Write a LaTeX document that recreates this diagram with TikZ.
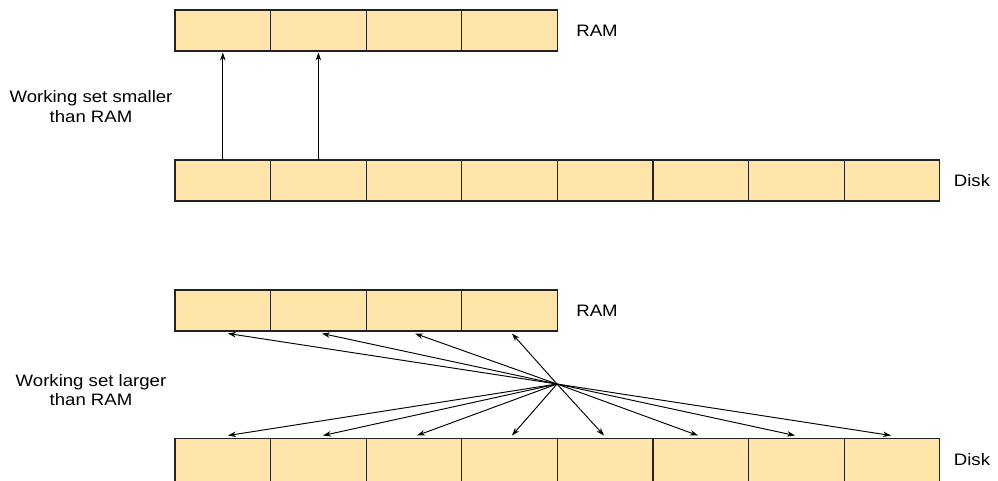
\documentclass[tikz,border=0pt]{standalone}
\usepackage{fontspec}
\setmainfont[FakeStretch=1.12]{Liberation Sans}
\usetikzlibrary{arrows.meta,calc}
\definecolor{cellfill}{HTML}{FFE5AA}
\definecolor{cellline}{HTML}{222222}
\begin{document}
\begin{tikzpicture}[x=1pt,y=-1pt,
  cell/.style={draw=cellline,fill=cellfill,line width=1.1pt,minimum width=95.6pt,minimum height=41pt,inner sep=0pt,outer sep=0pt,anchor=north west},
  lbl/.style={font=\fontsize{16.6}{19.5}\selectfont,inner sep=0pt},
  arr/.style={line width=0.95pt,-{Stealth[length=8pt,width=5.5pt]}}]
\useasboundingbox (0,0) rectangle (998,480);
% top RAM
\foreach \i in {0,...,3}{\node[cell] (ra\i) at ({175+\i*95.6},10) {};}
% top Disk
\foreach \i in {0,...,7}{\node[cell] (da\i) at ({175+\i*95.6},160) {};}
% bottom RAM
\foreach \i in {0,...,3}{\node[cell] (rb\i) at ({175+\i*95.6},290) {};}
% bottom Disk (runs past the lower edge of the picture)
\foreach \i in {0,...,7}{\node[cell,minimum height=46pt] (db\i) at ({175+\i*95.6},438.5) {};}
% labels
\node[lbl] (ramA) at (597,31) {RAM};
\node[lbl] (diskA) at (972,181) {Disk};
\node[lbl] (ramB) at (597,311) {RAM};
\node[lbl] (diskB) at (972,460) {Disk};
\node[lbl,align=center] (wsA) at (91,106.5) {Working set smaller\\than RAM};
\node[lbl,align=center] (wsB) at (91,390) {Working set larger\\than RAM};
% top arrows
\draw[arr] (da0.north) -- ($(ra0.south)+(0,1.5)$);
\draw[arr] (da1.north) -- ($(ra1.south)+(0,1.5)$);
% hub
\coordinate (hub) at (557,384);
\coordinate (tr0) at (228,333.5);
\coordinate (tr1) at (322,333.5);
\coordinate (tr2) at (415,333.5);
\coordinate (tr3) at (512,333.5);
\foreach \i in {0,...,3}{\draw[arr] (hub) -- (tr\i);}
\coordinate (td0) at (228,435.5);
\coordinate (td1) at (323,435.5);
\coordinate (td2) at (417,435.5);
\coordinate (td3) at (512,435.5);
\coordinate (td4) at (604,435.5);
\coordinate (td5) at (698,435.5);
\coordinate (td6) at (795,435.5);
\coordinate (td7) at (891,435.5);
\foreach \i in {0,...,7}{\draw[arr] (hub) -- (td\i);}
\end{tikzpicture}
\end{document}
